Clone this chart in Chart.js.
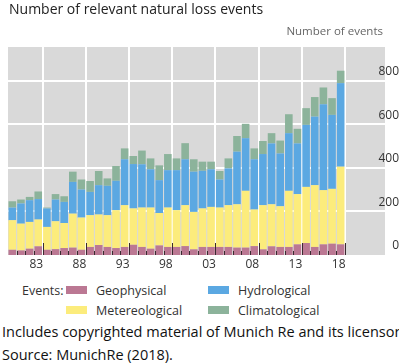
<!DOCTYPE html>
<html>
<head>
<meta charset="utf-8">
<script src="https://cdn.jsdelivr.net/npm/chart.js@4.4.1/dist/chart.umd.min.js"></script>
<style>
  html, body { margin: 0; padding: 0; background: #fff; }
  body {
    width: 399px; height: 364px; position: relative; overflow: hidden;
    font-family: 'Open Sans', sans-serif; color: #222;
  }
  #wrap { position: absolute; left: 0; top: 0; width: 399px; height: 280px; }
  .txt { position: absolute; white-space: nowrap; line-height: 1; }
  #title { left: 9px; top: 2px; font-size: 14px; }
  #unit { right: 16px; top: 25px; font-size: 11.5px; color: #666; }
  #events { left: 22px; top: 285px; font-size: 12.5px; color: #333; }
  .item { position: absolute; font-size: 12.5px; color: #333; white-space: nowrap; line-height: 1; }
  .item i { display: inline-block; width: 21px; height: 8px; margin-right: 9px; vertical-align: 1px; }
  #note { left: 2px; top: 325px; font-size: 14.5px; color: #111; }
  #source { left: 2px; top: 348px; font-size: 14.5px; color: #111; }
</style>
</head>
<body>
<div id="wrap"><canvas id="chart"></canvas></div>
<div class="txt" id="title">Number of relevant natural loss events</div>
<div class="txt" id="unit">Number of events</div>
<div class="txt" id="events">Events:</div>
<div id="legend"></div>
<div class="txt" id="note">Includes copyrighted material of Munich Re and its licensors.</div>
<div class="txt" id="source">Source: MunichRe (2018).</div>
<script>
const years = [
  '1980', '1981', '1982', '1983', '1984', '1985', '1986', '1987', '1988', '1989',
  '1990', '1991', '1992', '1993', '1994', '1995', '1996', '1997', '1998', '1999',
  '2000', '2001', '2002', '2003', '2004', '2005', '2006', '2007', '2008', '2009',
  '2010', '2011', '2012', '2013', '2014', '2015', '2016', '2017', '2018',
];
const tickYears = ['1983', '1988', '1993', '1998', '2003', '2008', '2013', '2018'];

const geophysical = [
  24, 21, 29, 40, 24, 27, 32, 34, 24, 37,
  46, 37, 32, 37, 47, 37, 29, 44, 37, 37,
  41, 26, 37, 37, 37, 37, 34, 34, 41, 26,
  40, 37, 37, 49, 55, 37, 49, 52, 49,
];
const meteorological = [
  136, 123, 123, 123, 105, 128, 115, 156, 148, 146,
  140, 146, 174, 192, 167, 181, 189, 149, 181, 169,
  188, 172, 177, 184, 181, 192, 199, 261, 168, 203,
  193, 187, 258, 231, 258, 284, 249, 252, 357,
];
const hydrological = [
  58, 93, 100, 94, 85, 100, 97, 146, 129, 107,
  135, 135, 135, 211, 204, 199, 176, 151, 172, 184,
  211, 185, 173, 173, 129, 169, 242, 242, 231, 235,
  280, 243, 265, 233, 285, 315, 395, 340, 384,
];
const climatological = [
  29, 18, 15, 35, 4, 25, 26, 47, 46, 50,
  65, 34, 68, 50, 37, 63, 50, 68, 74, 54,
  74, 57, 42, 35, 39, 46, 72, 66, 50, 60,
  47, 59, 87, 67, 77, 90, 77, 77, 57,
];

const seriesNames = ['Geophysical', 'Metereological', 'Hydrological', 'Climatological'];
const seriesColors = ['#bb7893', '#fcec7c', '#5ba8e2', '#8cb39b'];
const seriesData = [geophysical, meteorological, hydrological, climatological];

const PANEL = '#d9d9d9';
const PANEL_EXTRA = 40; // grey panel runs on under the value labels

Chart.defaults.font.family = "'Open Sans', sans-serif";

// grey panel first, before the axes draw their labels
const panelBackground = {
  id: 'panelBackground',
  beforeDraw(chart) {
    const { ctx, chartArea } = chart;
    const right = chartArea.right + PANEL_EXTRA;
    ctx.save();
    ctx.fillStyle = PANEL;
    ctx.fillRect(chartArea.left, chartArea.top, right - chartArea.left, chartArea.bottom - chartArea.top);
    ctx.restore();
  },
};

// white grid on the panel, under the bars
const panelGrid = {
  id: 'panelGrid',
  beforeDatasetsDraw(chart) {
    const { ctx, chartArea, scales: { x, y } } = chart;
    const right = chartArea.right + PANEL_EXTRA;
    ctx.save();
    ctx.fillStyle = '#ffffff';
    y.ticks.forEach((tick) => {
      if (tick.value === 0) return;
      const py = Math.round(y.getPixelForValue(tick.value));
      ctx.fillRect(chartArea.left, py - 1, right - chartArea.left, 2);
    });
    const step = x.getPixelForValue(1) - x.getPixelForValue(0);
    for (let i = 4; i <= years.length; i += 5) {
      const px = Math.round(x.getPixelForValue(i) - step / 2);
      ctx.fillRect(px - 1, chartArea.top, 2, chartArea.bottom - chartArea.top);
    }
    ctx.restore();
  },
};

// small dark ticks sitting on the baseline, longer every five years
const baseTicks = {
  id: 'baseTicks',
  afterDatasetsDraw(chart) {
    const { ctx, chartArea, scales: { x } } = chart;
    const step = x.getPixelForValue(1) - x.getPixelForValue(0);
    ctx.save();
    ctx.strokeStyle = '#3a2a30';
    ctx.lineWidth = 1;
    for (let i = 1; i <= years.length; i += 1) {
      const px = Math.round(x.getPixelForValue(i) - step / 2) + 0.5;
      const len = i % 5 === 4 ? 12 : 4;
      ctx.beginPath();
      ctx.moveTo(px, chartArea.bottom);
      ctx.lineTo(px, chartArea.bottom - len);
      ctx.stroke();
    }
    ctx.restore();
  },
};

new Chart(document.getElementById('chart'), {
  type: 'bar',
  data: {
    labels: years,
    datasets: seriesNames.map((name, i) => ({
      label: name,
      data: seriesData[i],
      backgroundColor: seriesColors[i],
      borderWidth: 0,
      barPercentage: 0.88,
      categoryPercentage: 1,
    })),
  },
  options: {
    responsive: true,
    maintainAspectRatio: false,
    animation: false,
    layout: { padding: { left: 8, top: 47, right: 0, bottom: 0 } },
    plugins: {
      legend: { display: false },
      tooltip: { enabled: false },
    },
    scales: {
      x: {
        stacked: true,
        border: { display: false },
        grid: { display: false, drawTicks: false },
        ticks: {
          autoSkip: false,
          maxRotation: 0,
          padding: 2,
          labelOffset: -2,
          color: '#333',
          font: { size: 12 },
          callback: (value, i) => (tickYears.includes(years[i]) ? years[i].slice(2) : ''),
        },
        afterFit: (scale) => { scale.height = 25; },
      },
      y: {
        position: 'right',
        stacked: true,
        min: 0,
        max: 956,
        border: { display: false },
        grid: { display: false, drawTicks: false },
        ticks: {
          stepSize: 200,
          includeBounds: false,
          crossAlign: 'far',
          padding: 17,
          labelOffset: -9,
          color: '#333',
          font: { size: 12 },
        },
        afterFit: (scale) => { scale.width = 54; },
      },
    },
  },
  plugins: [panelBackground, panelGrid, baseTicks],
});

// legend laid out in two columns, column-major like the original
const legend = document.getElementById('legend');
seriesNames.forEach((name, i) => {
  const el = document.createElement('div');
  el.className = 'item';
  el.style.left = `${66 + Math.floor(i / 2) * 142}px`;
  el.style.top = `${285 + (i % 2) * 20}px`;
  el.innerHTML = `<i style="background:${seriesColors[i]}"></i>${name}`;
  legend.appendChild(el);
});
</script>
</body>
</html>
